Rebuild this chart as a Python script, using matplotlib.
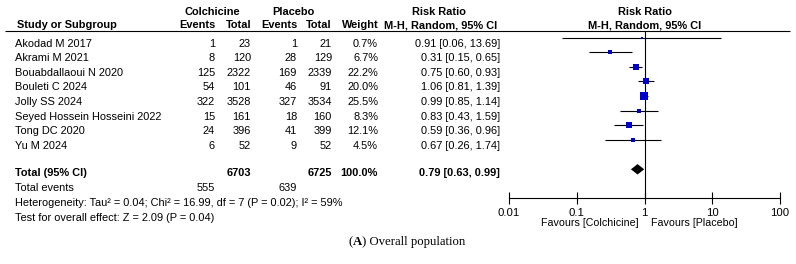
import numpy as np
import matplotlib
matplotlib.use("Agg")
import matplotlib.pyplot as plt

plt.rcParams['font.family'] = ['Liberation Sans', 'DejaVu Sans']

# ---------------- data ----------------
studies = ["Akodad M 2017", "Akrami M 2021", "Bouabdallaoui N 2020", "Bouleti C 2024",
           "Jolly SS 2024", "Seyed Hossein Hosseini 2022", "Tong DC 2020", "Yu M 2024"]
col_events = [1, 8, 125, 54, 322, 15, 24, 6]
col_total = [23, 120, 2322, 101, 3528, 161, 396, 52]
pla_events = [1, 28, 169, 46, 327, 18, 41, 9]
pla_total = [21, 129, 2339, 91, 3534, 160, 399, 52]
weights = [0.7, 6.7, 22.2, 20.0, 25.5, 8.3, 12.1, 4.5]
rr = [0.91, 0.31, 0.75, 1.06, 0.99, 0.83, 0.59, 0.67]
rr_lo = [0.06, 0.15, 0.60, 0.81, 0.85, 0.43, 0.36, 0.26]
rr_hi = [13.69, 0.65, 0.93, 1.39, 1.14, 1.59, 0.96, 1.74]

total_col, total_pla = 6703, 6725
total_weight = 100.0
total_events_col, total_events_pla = 555, 639
pooled, pooled_lo, pooled_hi = 0.79, 0.63, 0.99
heterogeneity = "Heterogeneity: Tau\u00b2 = 0.04; Chi\u00b2 = 16.99, df = 7 (P = 0.02); I\u00b2 = 59%"
overall_test = "Test for overall effect: Z = 2.09 (P = 0.04)"
xticks = [0.01, 0.1, 1, 10, 100]
xtick_labels = ["0.01", "0.1", "1", "10", "100"]
favours_left = "Favours [Colchicine]"
favours_right = "Favours [Placebo]"

# ---------------- layout ----------------
W, H = 796, 264
fig = plt.figure(figsize=(W / 100, H / 100), dpi=100)
bg = fig.add_axes([0, 0, 1, 1])
bg.set_xlim(0, W)
bg.set_ylim(H, 0)
bg.axis('off')

FS = 7.95
BLUE = '#0000CC'

x_name = 15
x_ev1, x_tot1, x_ev2, x_tot2, x_w, x_rr = 215, 251, 297, 332, 378, 500
x_rr_head = 441
row0, row_h = 46.7, 14.6

def t(x, y, s, ha='left', bold=False, size=FS, **kw):
    bg.text(x, y, s, ha=ha, va='baseline', fontsize=size,
            fontweight='bold' if bold else 'normal', **kw)

# headers
t(212, 15, "Colchicine", ha='center', bold=True)
t(293, 15, "Placebo", ha='center', bold=True)
t(17, 28.3, "Study or Subgroup", bold=True)
t(216, 28.3, "Events", ha='right', bold=True)
t(251, 28.3, "Total", ha='right', bold=True)
t(298, 28.3, "Events", ha='right', bold=True)
t(332, 28.3, "Total", ha='right', bold=True)
t(378.5, 28.3, "Weight", ha='right', bold=True)
t(x_rr_head - 2, 15, "Risk Ratio", ha='center', bold=True)
t(x_rr_head, 28.3, "M-H, Random, 95% CI", ha='center', bold=True)
t(645, 15, "Risk Ratio", ha='center', bold=True)
t(645, 28.3, "M-H, Random, 95% CI", ha='center', bold=True)
bg.plot([5, 790], [30.7, 30.7], color='black', lw=0.8, solid_capstyle='butt')

# study rows
for i, name in enumerate(studies):
    y = row0 + row_h * i
    t(x_name, y, name)
    t(x_ev1, y, str(col_events[i]), ha='right')
    t(x_tot1, y, str(col_total[i]), ha='right')
    t(x_ev2, y, str(pla_events[i]), ha='right')
    t(x_tot2, y, str(pla_total[i]), ha='right')
    t(x_w, y, f"{weights[i]:.1f}%", ha='right')
    t(x_rr, y, f"{rr[i]:.2f} [{rr_lo[i]:.2f}, {rr_hi[i]:.2f}]", ha='right')

# totals block
yb0, yb_h = 176.3, 14.8
t(x_name, yb0, "Total (95% CI)", bold=True)
t(x_tot1, yb0, str(total_col), ha='right', bold=True)
t(x_tot2, yb0, str(total_pla), ha='right', bold=True)
t(x_w, yb0, f"{total_weight:.1f}%", ha='right', bold=True)
t(x_rr, yb0, f"{pooled:.2f} [{pooled_lo:.2f}, {pooled_hi:.2f}]", ha='right', bold=True)
t(x_name, yb0 + yb_h, "Total events")
t(x_ev1, yb0 + yb_h, str(total_events_col), ha='right')
t(296.5, yb0 + yb_h, str(total_events_pla), ha='right')
t(x_name, yb0 + 2 * yb_h, heterogeneity)
t(x_name, yb0 + 3 * yb_h, overall_test)

# favours labels
t(639, 225.5, favours_left, ha='right', size=7.7)
t(651, 225.5, favours_right, ha='left', size=7.7)

# ---------------- forest axes ----------------
ax_l, ax_r, ax_top, ax_bot = 509, 780, 30.7, 198
fa = fig.add_axes([ax_l / W, 1 - ax_bot / H, (ax_r - ax_l) / W, (ax_bot - ax_top) / H])
fa.set_xscale('log')
fa.set_xlim(0.01, 100)
fa.set_ylim(ax_bot, ax_top)
fa.patch.set_alpha(0)
for s in ['top', 'left', 'right']:
    fa.spines[s].set_visible(False)
fa.spines['bottom'].set_linewidth(0.8)
fa.set_yticks([])
fa.set_xticks(xticks)
fa.set_xticklabels(xtick_labels)
fa.xaxis.set_minor_locator(matplotlib.ticker.NullLocator())
fa.tick_params(axis='x', direction='inout', length=8, width=0.8, labelsize=8.2, pad=3)
fa.axvline(1, color='black', lw=0.8)

for i in range(len(studies)):
    y = row0 + row_h * i - 9.2
    fa.plot([rr_lo[i], rr_hi[i]], [y, y], color='black', lw=0.8, solid_capstyle='butt')
    side_px = max(2.0, 1.45 * np.sqrt(weights[i]))
    fa.plot([rr[i]], [y], marker='s', color=BLUE, markersize=side_px * 0.72,
            markeredgewidth=0, linestyle='none')

yd = 169.3
hd = 5.2
fa.fill([pooled_lo, pooled, pooled_hi, pooled], [yd, yd - hd, yd, yd + hd],
        color='black', lw=0)

# caption
fig.canvas.draw()
rend = fig.canvas.get_renderer()
cap_parts = [("(", 'normal'), ("A", 'bold'), (") Overall population", 'normal')]
cap_fs = 9.2
cap_y = 245
cap_family = ['Liberation Serif', 'DejaVu Serif']
widths = []
for s, wgt in cap_parts:
    tx = bg.text(0, cap_y, s, fontsize=cap_fs, fontweight=wgt, family=cap_family, va='baseline')
    bb = tx.get_window_extent(rend)
    widths.append(bb.width)
    tx.remove()
x = 407 - sum(widths) / 2
for (s, wgt), wd in zip(cap_parts, widths):
    bg.text(x, cap_y, s, fontsize=cap_fs, fontweight=wgt, family=cap_family, va='baseline')
    x += wd

fig.savefig("out.png", dpi=100)
